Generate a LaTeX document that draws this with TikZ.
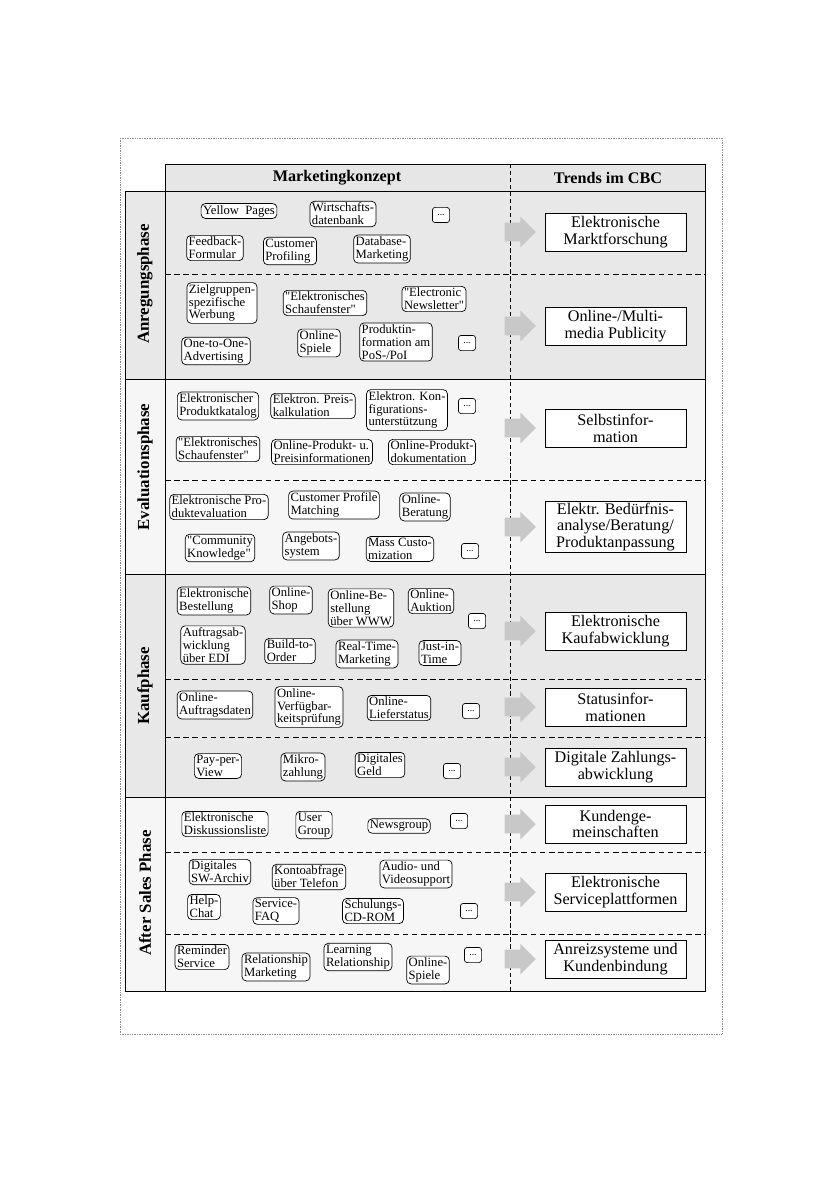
\documentclass[tikz,border=0pt]{standalone}
\usepackage{fontspec}
\setmainfont{Liberation Serif}[Ligatures=TeXOff]
\usetikzlibrary{shapes.arrows}
\definecolor{bandgray}{HTML}{E8E8E8}
\definecolor{bandlight}{HTML}{F6F6F6}
\definecolor{headgray}{HTML}{E6E6E6}
\definecolor{arrowgray}{HTML}{C8C8C8}
\definecolor{framegray}{HTML}{8C8C8C}

\begin{document}
\begin{tikzpicture}[x=0.025cm,y=-0.025cm,
  item/.style={draw,fill=white,rounded corners=3pt,line width=0.5pt,
               inner xsep=1.4pt,inner ysep=1.2pt,align=left,
               font=\fontsize{9}{9.2}\selectfont},
  more/.style={draw,fill=white,rounded corners=2pt,line width=0.5pt,
               minimum width=0.43cm,minimum height=0.38cm,inner sep=0pt,
               font=\fontsize{7}{7}\selectfont},
  trend/.style={draw,fill=white,line width=0.6pt,minimum width=3.525cm,
                minimum height=0.95cm,inner sep=1pt,align=center,
                font=\fontsize{11.5}{12}\selectfont},
  phase/.style={rotate=90,font=\fontsize{12}{14}\selectfont\bfseries},
  head/.style={font=\fontsize{11.5}{13}\selectfont\bfseries},
  bigarrow/.style={single arrow,fill=arrowgray,draw=none,minimum height=0.78cm,
                   inner xsep=0pt,inner ysep=0.225cm,
                   single arrow head extend=0.15cm},
  subline/.style={line width=0.6pt,dash pattern=on 4pt off 2.5pt},
]
\useasboundingbox (0,0) rectangle (840,1188);
\draw[framegray,line width=0.5pt,dash pattern=on 0.6pt off 0.6pt]
  (120,138) rectangle (722,1034);

% table
\fill[headgray] (165,164) rectangle (705,191);
\fill[bandgray] (125,191) rectangle (705,379);
\fill[bandlight] (125,379) rectangle (705,574);
\fill[bandgray] (125,574) rectangle (705,797);
\fill[bandlight] (125,797) rectangle (705,991);
\foreach \y in {274,480,679,737,852,934}
  \draw[subline] (165,\y) -- (705,\y);
\draw[line width=0.5pt,dash pattern=on 3pt off 2pt] (510,164) -- (510,991);
\draw[line width=0.7pt] (165,164) rectangle (705,191);
\draw[line width=0.7pt] (125,191) rectangle (705,991);
\draw[line width=0.7pt] (165,164) -- (165,991);
\foreach \y in {379,574,797}
  \draw[line width=0.7pt] (125,\y) -- (705,\y);

\node[head] (mk) at (337,178) {Marketingkonzept};
\node[head] (cbc) at (608,178) {Trends im CBC};

\node[phase] (ph1) at (145,284) {Anregungsphase};
\node[phase] (ph2) at (145,467) {Evaluationsphase};
\node[phase] (ph3) at (145,686) {Kaufphase};
\node[phase] (ph4) at (145,893) {After Sales Phase};

% Anregungsphase
\node[item] (yp) at (239,211) {Yellow\ \ Pages};
\node[item] (wdb) at (343,214) {Wirtschafts-\\datenbank};
\node[more] (m1) at (441,215) {...};
\node[item] (ff) at (215,248) {Feedback-\\Formular};
\node[item] (cp) at (290,251) {Customer\\Profiling};
\node[item] (dbm) at (382,249) {Database-\\Marketing};

\node[item] (zw) at (222,303) {Zielgruppen-\\spezifische\\Werbung};
\node[item] (es1) at (325,303) {"Elektronisches\\Schaufenster"};
\node[item] (en) at (434,299) {"Electronic\\Newsletter"};
\node[item] (oto) at (216,351) {One-to-One-\\Advertising};
\node[item] (os1) at (319,343) {Online-\\Spiele};
\node[item] (pi) at (396,342) {Produktin-\\formation am\\PoS-/PoI};
\node[more] (m2) at (467,343) {...};

% Evaluationsphase
\node[item] (epk) at (218,406) {Elektronischer\\Produktkatalog};
\node[item] (epr) at (313,406) {Elektron. Preis-\\kalkulation};
\node[item] (eko) at (407,410) {Elektron. Kon-\\figurations-\\unterstützung};
\node[more] (m3) at (467,406) {...};
\node[item] (es2) at (218,449) {"Elektronisches\\Schaufenster"};
\node[item] (opp) at (322,452) {Online-Produkt- u.\\Preisinformationen};
\node[item] (opd) at (432,452) {Online-Produkt-\\dokumentation};

\node[item] (epe) at (219,507) {Elektronische Pro-\\duktevaluation};
\node[item] (cpm) at (334,505) {Customer Profile\\Matching};
\node[item] (ob) at (425,507) {Online-\\Beratung};
\node[item] (ck) at (220,548) {"Community\\Knowledge"};
\node[item] (as) at (311,546) {Angebots-\\system};
\node[item] (mc) at (400,549) {Mass Custo-\\mization};
\node[more] (m4) at (470,551) {...};

% Kaufphase
\node[item] (eb) at (214,601) {Elektronische\\Bestellung};
\node[item] (osh) at (291,600) {Online-\\Shop};
\node[item] (obw) at (361,608) {Online-Be-\\stellung\\über WWW};
\node[item] (oa) at (431,601) {Online-\\Auktion};
\node[more] (m5) at (477,621) {...};
\node[item] (edi) at (213,645) {Auftragsab-\\wicklung\\über EDI};
\node[item] (bto) at (290,651) {Build-to-\\Order};
\node[item] (rtm) at (367,654) {Real-Time-\\Marketing};
\node[item] (jit) at (440,653) {Just-in-\\Time};

\node[item] (oad) at (215,705) {Online-\\Auftragsdaten};
\node[item] (ovp) at (309,707) {Online-\\Verfügbar-\\keitsprüfung};
\node[item] (ols) at (399,708) {Online-\\Lieferstatus};
\node[more] (m6) at (471,711) {...};

\node[item] (ppv) at (218,766) {Pay-per-\\View};
\node[item] (mz) at (303,767) {Mikro-\\zahlung};
\node[item] (dg) at (380,765) {Digitales\\Geld};
\node[more] (m7) at (452,771) {...};

% After Sales Phase
\node[item] (edl) at (225,824) {Elektronische\\Diskussionsliste};
\node[item] (ug) at (314,825) {User\\Group};
\node[item] (ng) at (399,826) {Newsgroup};
\node[more] (m8) at (459,821) {...};

\node[item] (swa) at (220,872) {Digitales\\SW-Archiv};
\node[item] (kat) at (309,877) {Kontoabfrage\\über Telefon};
\node[item] (avs) at (416,874) {Audio- und\\Videosupport};
\node[item] (hc) at (204,907) {Help-\\Chat};
\node[item] (faq) at (276,911) {Service-\\FAQ};
\node[item] (cd) at (373,911) {Schulungs-\\CD-ROM};
\node[more] (m9) at (469,911) {...};

\node[item] (rs) at (202,957) {Reminder\\Service};
\node[item] (rm) at (276,967) {Relationship\\Marketing};
\node[item] (lr) at (358,957) {Learning\\Relationship};
\node[item] (os2) at (428,970) {Online-\\Spiele};
\node[more] (m10) at (473,955) {...};

% Trends im CBC
\node[trend] (t1) at (615.5,232) {Elektronische\\Marktforschung};
\node[trend] (t2) at (615.5,326) {Online-/Multi-\\media Publicity};
\node[trend] (t3) at (615.5,428) {Selbstinfor-\\mation};
\node[trend] (t4) at (615.5,527) {Elektr. Bedürfnis-\\analyse/Beratung/\\Produktanpassung};
\node[trend] (t5) at (615.5,631) {Elektronische\\Kaufabwicklung};
\node[trend] (t6) at (615.5,707) {Statusinfor-\\mationen};
\node[trend] (t7) at (615.5,767) {Digitale Zahlungs-\\abwicklung};
\node[trend] (t8) at (615.5,824) {Kundenge-\\meinschaften};
\node[trend] (t9) at (615.5,892) {Elektronische\\Serviceplattformen};
\node[trend] (t10) at (615.5,959) {Anreizsysteme und\\Kundenbindung};

\foreach \n/\y in {1/232,2/326,3/428,4/527,5/631,6/707,7/767,8/824,9/892,10/959}
  \node[bigarrow] (ar\n) at (515.5,\y) {};
\end{tikzpicture}
\end{document}
